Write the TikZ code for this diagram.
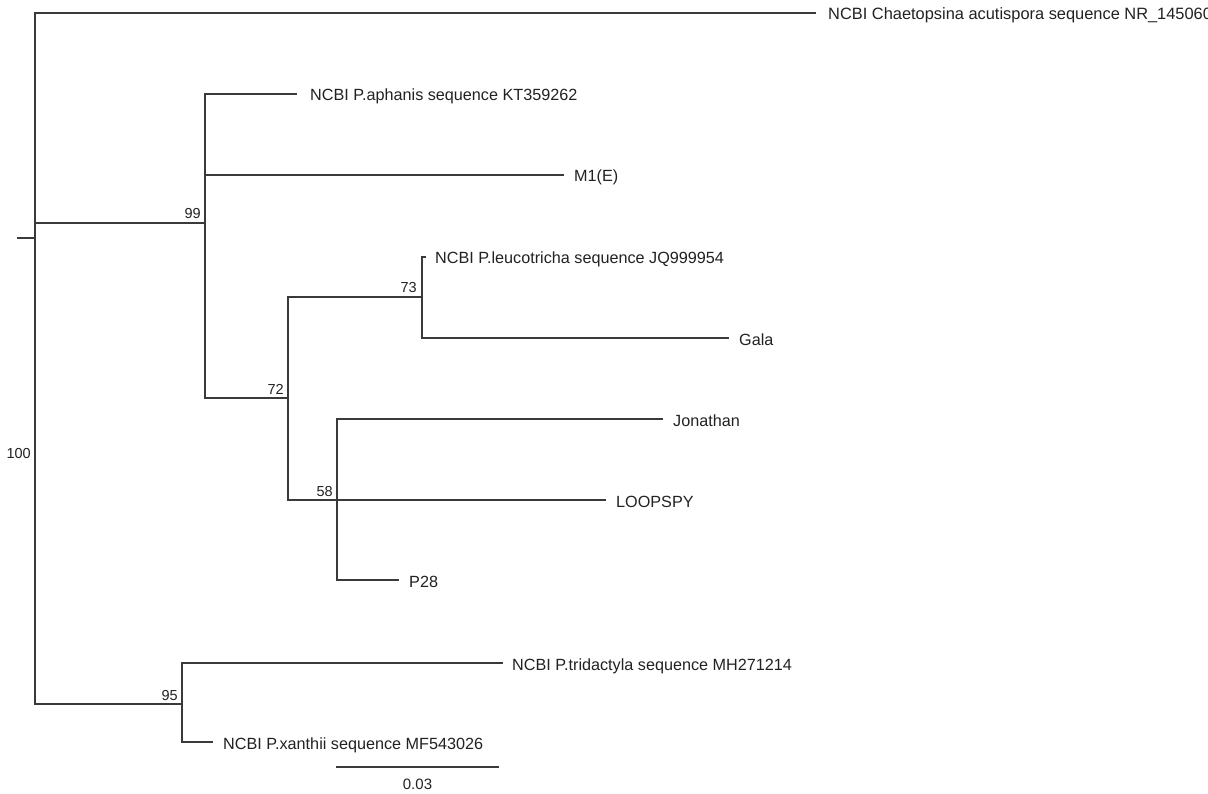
\documentclass[tikz,border=0pt]{standalone}
\usepackage{fontspec}
\setmainfont{Liberation Sans}
\usetikzlibrary{calc}
\definecolor{branch}{HTML}{3A3A3A}
\definecolor{txt}{HTML}{222222}
\begin{document}
\begin{tikzpicture}[x=1pt,y=-1pt,
  br/.style={draw=branch,line width=1.3pt,line cap=rect},
  leaf/.style={anchor=base west,inner sep=0pt,xshift=11pt,yshift=-7pt,text=txt,font=\fontsize{16.2}{19}\selectfont},
  supp/.style={anchor=base east,inner sep=0pt,text=txt,font=\fontsize{14.5}{17}\selectfont},
  scl/.style={anchor=base,inner sep=0pt,text=txt,font=\fontsize{15}{18}\selectfont}]
\useasboundingbox (0,0) rectangle (1208,794);
\fill[white] (0,0) rectangle (1208,794);
\clip (0,0) rectangle (1208,794);
% internal nodes
\coordinate (stub) at (18,238);
\coordinate (root) at (35,238);
\coordinate (n99) at (205,223);
\coordinate (n72) at (288,398);
\coordinate (n73) at (422,297);
\coordinate (n58) at (337,500);
\coordinate (n95) at (182,704);
% tips
\coordinate (chT) at (815,13);
\coordinate (aphT) at (296,94);
\coordinate (m1T) at (563,175);
\coordinate (leuT) at (425,257);
\coordinate (galaT) at (728,338);
\coordinate (jonT) at (662,419);
\coordinate (loopT) at (605,500);
\coordinate (p28T) at (398,580);
\coordinate (tridT) at (502,663);
\coordinate (xanT) at (212,742);
% branches
\draw[br] (stub) -- (root);
\draw[br] (root) |- (chT);
\draw[br] (root) |- (n99);
\draw[br] (root) |- (n95);
\draw[br] (n99) |- (aphT);
\draw[br] (n99) |- (m1T);
\draw[br] (n99) |- (n72);
\draw[br] (n72) |- (n73);
\draw[br] (n72) |- (n58);
\draw[br] (n73) |- (leuT);
\draw[br] (n73) |- (galaT);
\draw[br] (n58) |- (jonT);
\draw[br] (n58) |- (loopT);
\draw[br] (n58) |- (p28T);
\draw[br] (n95) |- (tridT);
\draw[br] (n95) |- (xanT);
% leaf labels
\node[leaf,xshift=2pt,font=\fontsize{16.4}{19}\selectfont] (ch) at (chT) {NCBI Chaetopsina acutispora sequence NR\_145060};
\node[leaf,xshift=3pt] (aph) at (aphT) {NCBI P.aphanis sequence KT359262};
\node[leaf] (m1) at (m1T) {M1(E)};
\node[leaf,xshift=-1pt] (leu) at (leuT) {NCBI P.leucotricha sequence JQ999954};
\node[leaf] (gala) at (galaT) {Gala};
\node[leaf] (jon) at (jonT) {Jonathan};
\node[leaf] (loop) at (loopT) {LOOPSPY};
\node[leaf] (p28) at (p28T) {P28};
\node[leaf,xshift=-1pt] (trid) at (tridT) {NCBI P.tridactyla sequence MH271214};
\node[leaf] (xan) at (xanT) {NCBI P.xanthii sequence MF543026};
% support values
\node[supp] (s99) at ([shift={(-4,-4)}]n99) {99};
\node[supp] (s72) at ([shift={(-4,-3)}]n72) {72};
\node[supp] (s73) at ([shift={(-5,-4)}]n73) {73};
\node[supp] (s58) at ([shift={(-4,-4)}]n58) {58};
\node[supp] (s95) at ([shift={(-4,-4)}]n95) {95};
\node[supp] (s100) at (31,458) {100};
% scale bar
\coordinate (sb1) at (337,767);
\coordinate (sb2) at (498,767);
\draw[br] (sb1) -- (sb2);
\node[scl] (sbl) at ([yshift=-22pt]$(sb1)!0.5!(sb2)$) {0.03};
\end{tikzpicture}
\end{document}
